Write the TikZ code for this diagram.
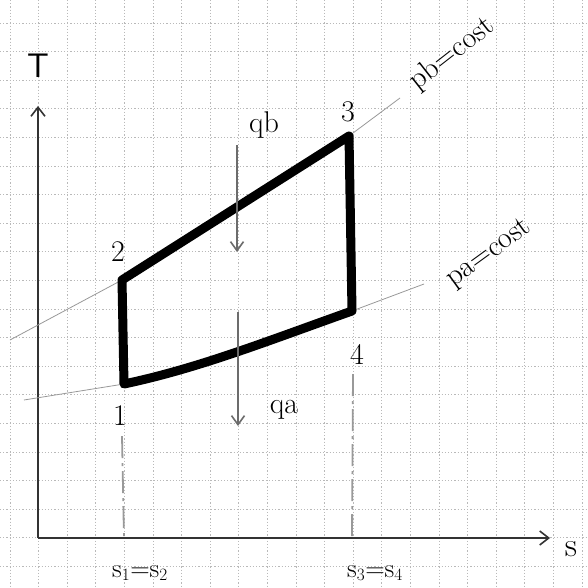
\documentclass[tikz,border=0pt]{standalone}
\usetikzlibrary{arrows.meta}
\begin{document}
\begin{tikzpicture}[x=1pt,y=-1pt,
  gridline/.style={gray!55,line width=0.7pt,dash pattern=on 1.2pt off 2pt},
  axisline/.style={black!80,line width=1.6pt},
  cycleline/.style={black,line width=9pt,line join=round},
  isobar/.style={gray!80,line width=0.8pt},
  dropline/.style={gray!80,line width=1.8pt,dash pattern=on 22pt off 5pt on 3pt off 5pt},
  heatarrow/.style={gray!85!black,line width=1.8pt,-{Straight Barb[length=9pt,width=13pt,line width=1.6pt]}},
  axisarrow/.style={axisline,-{Straight Barb[length=9pt,width=14pt,line width=1.6pt]}},
  lab/.style={font=\fontsize{30}{30}\selectfont,inner sep=0pt},
  smalllab/.style={font=\fontsize{27}{27}\selectfont,inner sep=0pt}]
\useasboundingbox (0,0) rectangle (587,588);
\fill[white] (0,0) rectangle (587,588);
% grid
\foreach \i in {0,...,20} \draw[gridline] ({10+28.6*\i},0) -- ({10+28.6*\i},588);
\foreach \j in {0,...,19} \draw[gridline] (0,{23+28.6*\j}) -- (587,{23+28.6*\j});
% axes
\coordinate (O) at (38,538);
\coordinate (Ttip) at (38,106);
\coordinate (Stip) at (550,538);
\draw[axisarrow] (O) -- (Ttip);
\draw[axisarrow] (O) -- (Stip);
\node[lab,font=\fontsize{34}{34}\selectfont\sffamily] (T) at (38,66) {T};
\node[lab,font=\fontsize{34}{34}\selectfont] (s) at (571,549) {s};
% cycle points
\coordinate (p1) at (124,384);
\coordinate (p2) at (122,280);
\coordinate (p3) at (349,136);
\coordinate (p4) at (352,311);
% isobars
\coordinate (pbL) at (10,340);
\coordinate (pbR) at (400,98);
\coordinate (paL) at (24,400);
\coordinate (paR) at (424,284);
\draw[isobar] (pbL) -- (p2);
\draw[isobar] (p3) -- (pbR);
\draw[isobar] (paL) -- (p1);
\draw[isobar] (p4) -- (paR);
\node[lab,rotate=38] (pb) at (452,54) {pb=cost};
\node[lab,rotate=36] (pa) at (489,254) {pa=cost};
% cycle
\draw[cycleline] (p1) -- (p2) -- (p3) -- (p4) .. controls (270,340) and (200,368) .. (p1) -- cycle;
% point labels
\node[lab] (l1) at (120,416) {1};
\node[lab] (l2) at (118,252) {2};
\node[lab] (l3) at (348,112) {3};
\node[lab] (l4) at (357,354) {4};
% drop lines
\coordinate (d1) at (124,538);
\coordinate (d4) at (352,538);
\draw[dropline] (l1.south) ++(2,10) -- (d1);
\draw[dropline] (l4.south) ++(-4,10) -- (d4);
\node[smalllab] (s12) at (140,573) {s$_1$=s$_2$};
\node[smalllab] (s34) at (375,573) {s$_3$=s$_4$};
% heat arrows
\coordinate (qbs) at (237,145);
\coordinate (qbe) at (237,252);
\coordinate (qas) at (238,312);
\coordinate (qae) at (238,426);
\draw[heatarrow] (qbs) -- (qbe);
\draw[heatarrow] (qas) -- (qae);
\node[lab] (qb) at (264,125) {qb};
\node[lab] (qa) at (284,410) {qa};
\end{tikzpicture}
\end{document}
